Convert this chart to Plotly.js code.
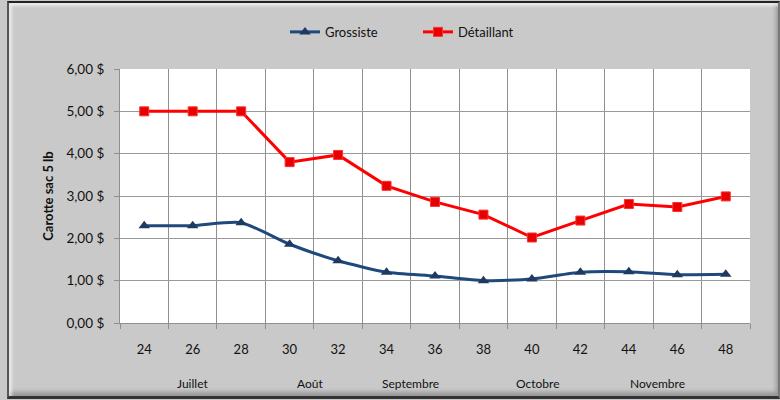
<!DOCTYPE html>
<html>
<head>
<meta charset="utf-8">
<script src="https://cdn.plot.ly/plotly-3.0.1.min.js"></script>
<style>
  html, body { margin: 0; padding: 0; background: #c9c9c9; }
  #wrap { position: relative; width: 780px; height: 400px; overflow: hidden; background: #c9c9c9; }
  #chart { position: absolute; left: 0; top: 0; width: 780px; height: 400px; }
  #frame { position: absolute; left: 7px; top: 1px; width: 769px; height: 393px;
           border-top: 2px solid #222; border-left: 2px solid #555; border-right: 2px solid #777; border-bottom: 3px solid #333;
           box-shadow: inset 3px 3px 3px rgba(255,255,255,0.6), inset -2px -4px 4px rgba(0,0,0,0.25);
           pointer-events: none; }
</style>
</head>
<body>
<div id="wrap">
  <div id="chart"></div>
  <div id="frame"></div>
</div>
<script>
const weeks = ['24','26','28','30','32','34','36','38','40','42','44','46','48'];
const grossiste = [2.30, 2.30, 2.37, 1.86, 1.47, 1.20, 1.11, 1.00, 1.04, 1.20, 1.21, 1.14, 1.15];
const detaillant = [5.00, 5.00, 5.00, 3.80, 3.97, 3.24, 2.86, 2.56, 2.02, 2.42, 2.81, 2.74, 2.99];
const months = ['Juillet', 'Août', 'Septembre', 'Octobre', 'Novembre'];
const monthPos = [1.0, 3.42, 5.5, 8.12, 10.6];
const yTicks = [0, 1, 2, 3, 4, 5, 6];
const yTickText = ['0,00 $', '1,00 $', '2,00 $', '3,00 $', '4,00 $', '5,00 $', '6,00 $'];
const yTitle = 'Carotte sac 5 lb';

const font = "Lato, 'Open Sans', 'Liberation Sans', sans-serif";

const traces = [
  {
    x: weeks, y: grossiste, name: 'Grossiste', type: 'scatter', mode: 'lines+markers',
    line: { color: '#1f497d', width: 3, shape: 'spline', smoothing: 0.6 },
    marker: { symbol: 'triangle-up', size: 10, color: '#1f3a60', line: { color: '#1f3a60', width: 0 } }
  },
  {
    x: weeks, y: detaillant, name: 'Détaillant', type: 'scatter', mode: 'lines+markers',
    line: { color: '#ff0000', width: 3 },
    marker: { symbol: 'square', size: 9, color: '#e60000', line: { color: '#ff3030', width: 1 } }
  }
];

const annotations = months.map((m, i) => ({
  x: monthPos[i], y: 0, xref: 'x', yref: 'paper', yanchor: 'top', yshift: -51,
  text: m, showarrow: false, font: { family: font, size: 12, color: '#111' }
}));

const layout = {
  width: 780, height: 400,
  paper_bgcolor: 'rgba(0,0,0,0)', plot_bgcolor: '#ffffff',
  margin: { l: 120, r: 30, t: 69, b: 77 },
  font: { family: font, size: 12, color: '#111' },
  showlegend: true,
  legend: {
    orientation: 'h', x: (285 - 120) / 630, xanchor: 'left', y: 1.205, yanchor: 'top',
    bgcolor: 'rgba(0,0,0,0)', font: { family: font, size: 13, color: '#111' },
    entrywidth: 88, entrywidthmode: 'pixels', traceorder: 'normal'
  },
  xaxis: {
    type: 'category', tickson: 'boundaries', showgrid: true, gridcolor: '#8f8f8f', gridwidth: 1,
    ticks: 'outside', ticklen: 5, tickcolor: '#8f8f8f', showline: true, linecolor: '#8f8f8f', linewidth: 1,
    ticklabelstandoff: 14, tickfont: { family: font, size: 13, color: '#111' },
    range: [-0.5, 12.5], zeroline: false
  },
  yaxis: {
    range: [0, 6], tickvals: yTicks, ticktext: yTickText,
    showgrid: true, gridcolor: '#9a9a9a', gridwidth: 1,
    ticks: 'outside', ticklen: 5, tickcolor: '#8f8f8f', showline: true, linecolor: '#8f8f8f', linewidth: 1,
    ticklabelstandoff: 7,
    zeroline: false, tickfont: { family: font, size: 13.5, color: '#111' },
    title: { text: '<b>' + yTitle + '</b>', standoff: 9, font: { family: font, size: 13, color: '#111' } }
  },
  annotations: annotations
};

Plotly.newPlot('chart', traces, layout, { displayModeBar: false, staticPlot: true });
</script>
</body>
</html>
